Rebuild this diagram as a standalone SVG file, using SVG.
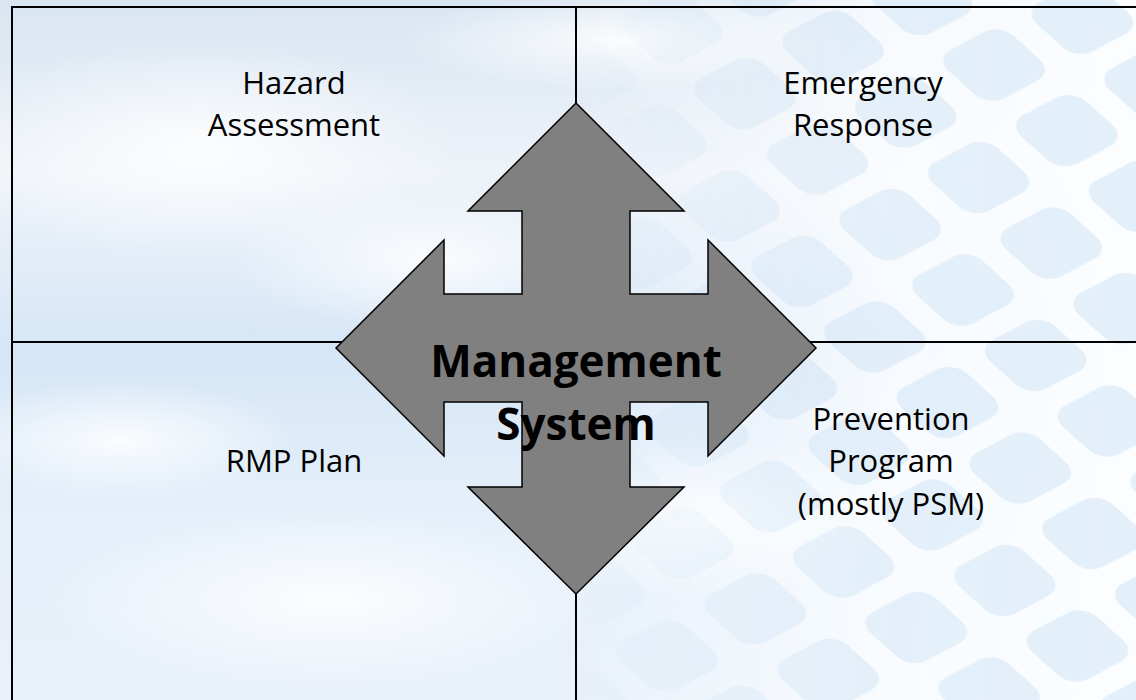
<svg xmlns="http://www.w3.org/2000/svg" width="1136" height="700" viewBox="0 0 1136 700">
  <defs>
    <linearGradient id="sky" x1="0" y1="0" x2="0" y2="1">
      <stop offset="0" stop-color="#d9e5f1"/>
      <stop offset="0.25" stop-color="#eef3f9"/>
      <stop offset="0.5" stop-color="#d6e6f6"/>
      <stop offset="0.75" stop-color="#e6f0fa"/>
      <stop offset="1" stop-color="#e9f1fa"/>
    </linearGradient>
    <radialGradient id="cloud">
      <stop offset="0" stop-color="#ffffff" stop-opacity="0.85"/>
      <stop offset="1" stop-color="#ffffff" stop-opacity="0"/>
    </radialGradient>
    <linearGradient id="fadeR" x1="0" y1="0" x2="1" y2="0">
      <stop offset="0" stop-color="#fff" stop-opacity="0"/>
      <stop offset="0.5" stop-color="#fff" stop-opacity="0"/>
      <stop offset="0.78" stop-color="#fff" stop-opacity="0.85"/>
      <stop offset="1" stop-color="#fff" stop-opacity="1"/>
    </linearGradient>
    <mask id="tileMask">
      <rect x="0" y="0" width="1136" height="700" fill="url(#fadeR)"/>
    </mask>
    <pattern id="tiles" width="100" height="92" patternUnits="userSpaceOnUse" patternTransform="translate(20,10) rotate(-28) skewX(20)">
      <rect x="0" y="0" width="100" height="92" fill="#fbfdff"/>
      <rect x="13" y="12" width="74" height="68" rx="18" fill="#e3eff9"/>
    </pattern>
    <style>
      .lbl { font-family: "Open Sans", "Liberation Sans", sans-serif; font-size: 31px; fill: #000; text-anchor: middle; }
      .big { font-family: "Open Sans", "Liberation Sans", sans-serif; font-size: 44px; font-weight: bold; fill: #000; text-anchor: middle; }
      .grid { stroke: #000; stroke-width: 2; fill: none; }
      .arrow { fill: #808080; stroke: #000; stroke-width: 1.5; stroke-linejoin: miter; }
    </style>
  </defs>

  <g id="background">
    <rect x="0" y="0" width="1136" height="700" fill="url(#sky)"/>
    <ellipse cx="200" cy="150" rx="260" ry="110" fill="url(#cloud)"/>
    <ellipse cx="430" cy="260" rx="200" ry="70" fill="url(#cloud)"/>
    <ellipse cx="120" cy="440" rx="180" ry="60" fill="url(#cloud)"/>
    <ellipse cx="330" cy="600" rx="280" ry="90" fill="url(#cloud)"/>
    <ellipse cx="700" cy="520" rx="200" ry="80" fill="url(#cloud)"/>
    <ellipse cx="620" cy="40" rx="220" ry="50" fill="url(#cloud)"/>
    <rect x="0" y="0" width="1136" height="700" fill="url(#tiles)" mask="url(#tileMask)"/>
  </g>

  <g id="connectors">
    <path class="grid" d="M12,700 L12,7 L1136,7"/>
    <line class="grid" x1="576" y1="7" x2="576" y2="700"/>
    <line class="grid" x1="12" y1="342" x2="1136" y2="342"/>
  </g>

  <g id="management-system">
    <path class="arrow" d="M576,103 L684,211 L630,211 L630,294 L708,294 L708,240 L816,348 L708,456 L708,402 L630,402 L630,487 L684,487 L576,594 L468,487 L522,487 L522,402 L444,402 L444,456 L336,348 L444,240 L444,294 L522,294 L522,211 L468,211 Z"/>
    <text class="big" x="576" y="377">Management</text>
    <text class="big" x="576" y="440">System</text>
  </g>

  <g id="hazard-assessment">
    <text class="lbl" x="294" y="94">Hazard</text>
    <text class="lbl" x="294" y="136">Assessment</text>
  </g>

  <g id="emergency-response">
    <text class="lbl" x="863" y="94">Emergency</text>
    <text class="lbl" x="863" y="136">Response</text>
  </g>

  <g id="rmp-plan">
    <text class="lbl" x="294" y="472">RMP Plan</text>
  </g>

  <g id="prevention-program">
    <text class="lbl" x="891" y="430">Prevention</text>
    <text class="lbl" x="891" y="472">Program</text>
    <text class="lbl" x="891" y="515">(mostly PSM)</text>
  </g>
</svg>
